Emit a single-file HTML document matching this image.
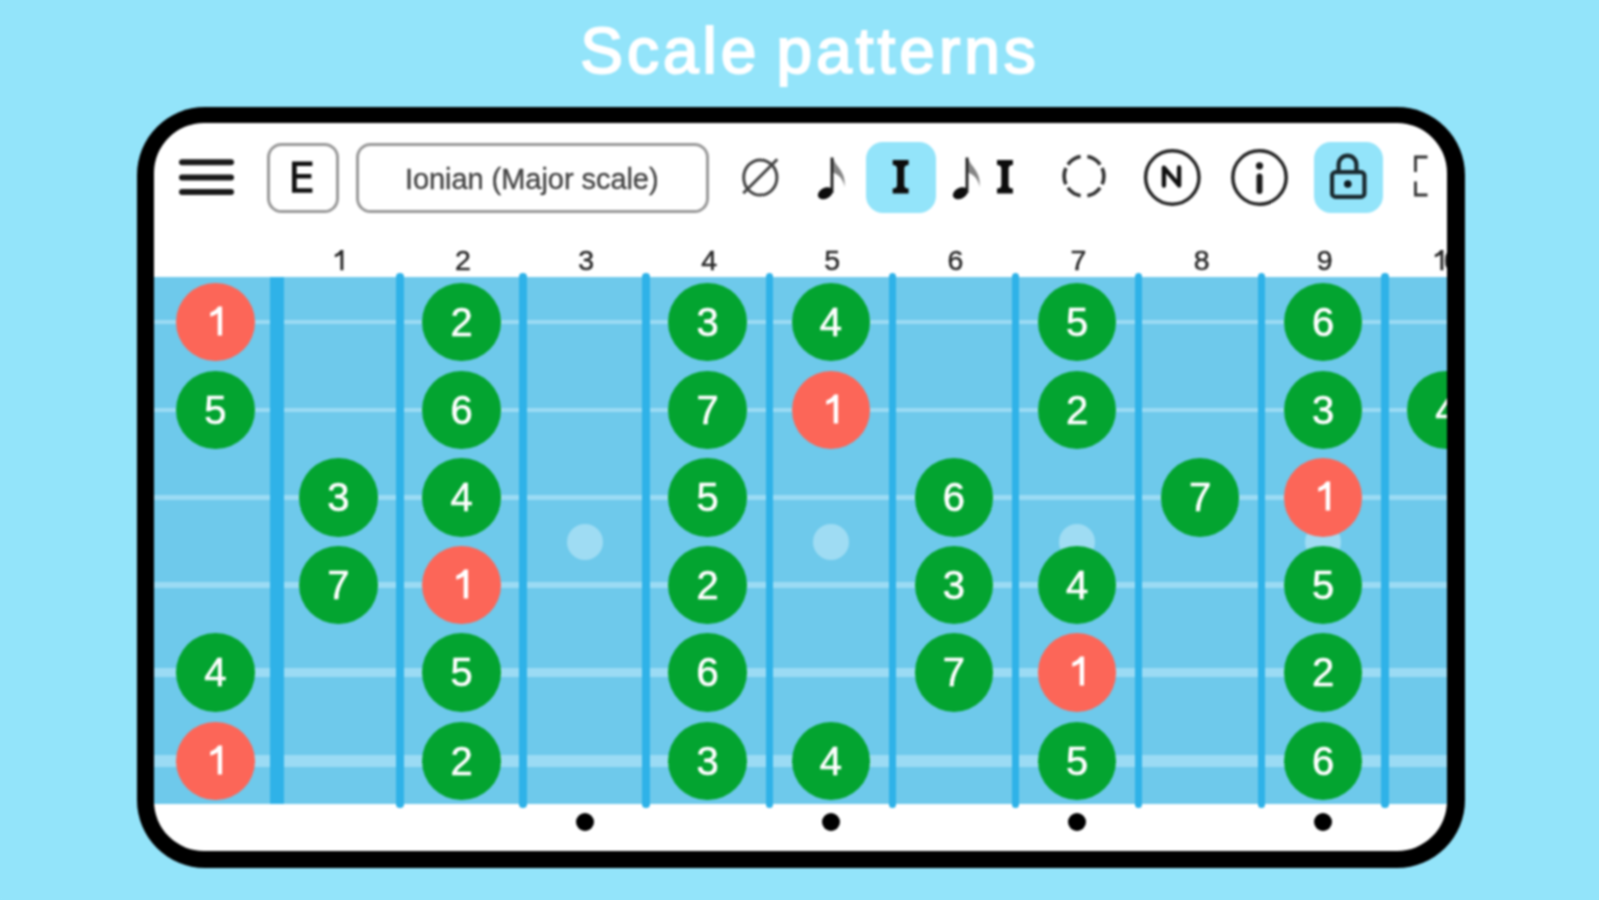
<!DOCTYPE html>
<html><head><meta charset="utf-8">
<style>
html,body{margin:0;padding:0;background:#93e4fa;}
#wrap{position:absolute;left:0;top:0;width:1599px;height:900px;background:#93e4fa;filter:blur(1.2px);}
body{width:1599px;height:900px;overflow:hidden;background:#93e4fa;position:relative;font-family:"Liberation Sans",sans-serif;}
.title{position:absolute;left:3px;width:1614px;top:10.6px;text-align:center;color:#fff;font-size:64px;line-height:80px;-webkit-text-stroke:2px #fff;letter-spacing:4px;word-spacing:-5.5px}
.frame{position:absolute;left:137px;top:107px;width:1328px;height:760.5px;border-radius:68px;background:#000;}
.screen{position:absolute;left:154px;top:122.5px;width:1293.3px;height:728.5px;border-radius:50px;background:#fff;overflow:hidden;}
.inner{position:absolute;left:-154px;top:-122.5px;width:1599px;height:900px;}
.fn{position:absolute;width:60px;text-align:center;font-size:28.5px;line-height:34px;color:#2a2a2a;-webkit-text-stroke:0.5px #2a2a2a}
.n{position:absolute;width:78.5px;height:78.5px;border-radius:50%;color:#fff;text-align:center;font-size:40px;line-height:79px;-webkit-text-stroke:0.6px #fff}
.abs{position:absolute;}
</style></head><body><div id="wrap">
<div class="title">Scale patterns</div>
<div class="frame"></div>
<div class="screen"><div class="inner">
<!-- toolbar -->
<svg class="abs" style="left:170px;top:150px" width="75" height="55" viewBox="170 150 75 55">
<g stroke="#1a1a1a" stroke-width="6" stroke-linecap="round"><line x1="182" y1="162.3" x2="231" y2="162.3"/><line x1="182" y1="177.5" x2="231" y2="177.5"/><line x1="182" y1="192" x2="231" y2="192"/></g>
</svg>
<div class="abs" style="left:267.2px;top:142.6px;width:66.1px;height:64.2px;border:3px solid #999;border-radius:14.5px;"></div>
<svg class="abs" style="left:285px;top:155px" width="35" height="45" viewBox="285 155 35 45"><path d="M292 161.5 H312.4 V166.1 H296.7 V174 H311.4 V178.6 H296.7 V188.2 H312.4 V192.8 H292 Z" fill="#111"/></svg>
<div class="abs" style="left:355.9px;top:142.6px;width:346.7px;height:64.2px;border:3px solid #999;border-radius:14.5px;text-align:center;font-size:29px;line-height:67px;color:#444;letter-spacing:-0.05px;text-indent:-1px;-webkit-text-stroke:0.35px #444">Ionian (Major scale)</div>
<div class="abs" style="left:865.5px;top:141.5px;width:70.5px;height:71.5px;border-radius:17px;background:#93e4fa"></div>
<div class="abs" style="left:1314px;top:141.5px;width:69px;height:71px;border-radius:17px;background:#93e4fa"></div>

<svg class="abs" style="left:730px;top:145px" width="60" height="60" viewBox="730 145 60 60">
  <ellipse cx="760.3" cy="177.5" rx="16.6" ry="17.6" fill="none" stroke="#444" stroke-width="3"/>
  <line x1="743.3" y1="193.3" x2="777.3" y2="159.3" stroke="#444" stroke-width="3"/>
</svg>
<svg class="abs" style="left:805px;top:145px" width="190" height="60" viewBox="805 145 190 60">
  <g>
    <ellipse cx="825.3" cy="193.2" rx="7.9" ry="5.4" transform="rotate(-28 825.3 193.2)" fill="#0d0d0d"/>
    <rect x="830.6" y="157.5" width="2.8" height="35.5" fill="#1a1a1a"/>
    <path d="M833.2 157.5 C 834.5 166, 846.5 171, 844.5 187 C 843.5 180, 840 175.5, 833.2 172.5 Z" fill="#333" opacity="0.6"/>
  </g>
  <g transform="translate(135 0)">
    <ellipse cx="825.3" cy="193.2" rx="7.9" ry="5.4" transform="rotate(-28 825.3 193.2)" fill="#0d0d0d"/>
    <rect x="830.6" y="157.5" width="2.8" height="35.5" fill="#1a1a1a"/>
    <path d="M833.2 157.5 C 834.5 166, 846.5 171, 844.5 187 C 843.5 180, 840 175.5, 833.2 172.5 Z" fill="#333" opacity="0.6"/>
  </g>
</svg>
<svg class="abs" style="left:880px;top:150px" width="150" height="55" viewBox="880 150 150 55">
  <path d="M892.7 160 H908.6 V165 Q904.3 165 904.3 168.5 V185 Q904.3 188.6 908.6 188.6 V193.5 H892.7 V188.6 Q897 188.6 897 185 V168.5 Q897 165 892.7 165 Z" fill="#0d0d0d"/>
  <path transform="translate(104.3 0)" d="M892.7 160 H908.6 V165 Q904.3 165 904.3 168.5 V185 Q904.3 188.6 908.6 188.6 V193.5 H892.7 V188.6 Q897 188.6 897 185 V168.5 Q897 165 892.7 165 Z" fill="#0d0d0d"/>
</svg>
<svg class="abs" style="left:1050px;top:145px" width="70" height="70" viewBox="1050 145 70 70">
  <g fill="none" stroke="#333" stroke-width="3.6">
  <path d="M1080.6 156.6 A19.8 19.8 0 0 0 1067.9 164.6"/>
  <path d="M1065.9 168.1 A19.8 19.8 0 0 0 1065.9 184.3"/>
  <path d="M1067.9 187.8 A19.8 19.8 0 0 0 1080.6 195.8"/>
  <path d="M1087.4 195.8 A19.8 19.8 0 0 0 1100.1 187.8"/>
  <path d="M1102.1 184.3 A19.8 19.8 0 0 0 1102.1 168.1"/>
  <path d="M1100.1 164.6 A19.8 19.8 0 0 0 1087.4 156.6"/>
  </g>
</svg>
<svg class="abs" style="left:1130px;top:135px" width="180" height="90" viewBox="1130 135 180 90">
  <circle cx="1172.3" cy="177.5" r="26.7" fill="none" stroke="#262626" stroke-width="3.5"/>
  <circle cx="1259.5" cy="177.5" r="26.7" fill="none" stroke="#262626" stroke-width="3.5"/>
  <path d="M1163.9 185.6 V167.6 L1179.1 185.4 V167.4" fill="none" stroke="#111" stroke-width="4.4" stroke-linejoin="round" stroke-linecap="round"/>
  <circle cx="1259.5" cy="165.8" r="3.6" fill="#1a1a1a"/>
  <line x1="1259.5" y1="176.5" x2="1259.5" y2="191" stroke="#1a1a1a" stroke-width="6" stroke-linecap="round"/>
</svg>
<svg class="abs" style="left:1320px;top:145px" width="60" height="60" viewBox="1320 145 60 60">
  <path d="M1338.6 172 V164.5 A8.9 8.9 0 0 1 1356.4 164.5 V172" fill="none" stroke="#1a2a30" stroke-width="4.2"/>
  <rect x="1332.1" y="172.1" width="32.3" height="24.8" rx="3.5" fill="none" stroke="#1a2a30" stroke-width="4.2"/>
  <circle cx="1347.8" cy="184" r="3.8" fill="#0d1a20"/>
</svg>
<svg class="abs" style="left:1405px;top:145px" width="40" height="60" viewBox="1405 145 40 60">
  <path d="M1415.5 172 V157 H1427.5 M1415.5 181.5 V195 H1427.5" fill="none" stroke="#333" stroke-width="2.8"/>
</svg>

<div style="position:absolute;left:154px;top:276.7px;width:1294px;height:527.3px;background:#6ec9eb"></div>
<div style="position:absolute;left:154px;top:320.25px;width:1294px;height:3.5px;background:#9bdbf4"></div>
<div style="position:absolute;left:154px;top:407.75px;width:1294px;height:4.5px;background:#9bdbf4"></div>
<div style="position:absolute;left:154px;top:494.75px;width:1294px;height:5.5px;background:#9bdbf4"></div>
<div style="position:absolute;left:154px;top:581.75px;width:1294px;height:6.5px;background:#9bdbf4"></div>
<div style="position:absolute;left:154px;top:667.55px;width:1294px;height:9.5px;background:#9bdbf4"></div>
<div style="position:absolute;left:154px;top:755.0px;width:1294px;height:12px;background:#9bdbf4"></div>
<div style="position:absolute;left:269.85px;top:276.7px;width:14px;height:527.3px;background:#2fb2e8"></div>
<div style="position:absolute;left:396.20000000000005px;top:272.8px;width:7.5px;height:535.5px;border-radius:3.75px;background:#2fb2e8"></div>
<div style="position:absolute;left:519.3px;top:272.8px;width:7.5px;height:535.5px;border-radius:3.75px;background:#2fb2e8"></div>
<div style="position:absolute;left:642.4px;top:272.8px;width:7.5px;height:535.5px;border-radius:3.75px;background:#2fb2e8"></div>
<div style="position:absolute;left:765.5px;top:272.8px;width:7.5px;height:535.5px;border-radius:3.75px;background:#2fb2e8"></div>
<div style="position:absolute;left:888.6px;top:272.8px;width:7.5px;height:535.5px;border-radius:3.75px;background:#2fb2e8"></div>
<div style="position:absolute;left:1011.6999999999999px;top:272.8px;width:7.5px;height:535.5px;border-radius:3.75px;background:#2fb2e8"></div>
<div style="position:absolute;left:1134.8px;top:272.8px;width:7.5px;height:535.5px;border-radius:3.75px;background:#2fb2e8"></div>
<div style="position:absolute;left:1257.9px;top:272.8px;width:7.5px;height:535.5px;border-radius:3.75px;background:#2fb2e8"></div>
<div style="position:absolute;left:1381.0px;top:272.8px;width:7.5px;height:535.5px;border-radius:3.75px;background:#2fb2e8"></div>
<div style="position:absolute;left:566.5999999999999px;top:523.5px;width:36px;height:36px;border-radius:50%;background:#9fdcf3"></div>
<div style="position:absolute;left:575.5999999999999px;top:813px;width:18px;height:18px;border-radius:50%;background:#000"></div>
<div style="position:absolute;left:812.8px;top:523.5px;width:36px;height:36px;border-radius:50%;background:#9fdcf3"></div>
<div style="position:absolute;left:821.8px;top:813px;width:18px;height:18px;border-radius:50%;background:#000"></div>
<div style="position:absolute;left:1059.0px;top:523.5px;width:36px;height:36px;border-radius:50%;background:#9fdcf3"></div>
<div style="position:absolute;left:1068.0px;top:813px;width:18px;height:18px;border-radius:50%;background:#000"></div>
<div style="position:absolute;left:1305.1999999999998px;top:523.5px;width:36px;height:36px;border-radius:50%;background:#9fdcf3"></div>
<div style="position:absolute;left:1314.1999999999998px;top:813px;width:18px;height:18px;border-radius:50%;background:#000"></div>
<svg class="abs" style="left:328.4px;top:245px" width="20" height="30" viewBox="-10 245 20 30"><path d="M5.4 250 V270.3 H2.4 V254.8 Q0 256.6 -3.2 257.3 V254.5 Q0.3 253.2 2.7 250 Z" fill="#2a2a2a"/></svg>
<div class="fn" style="left:433.0px;top:243.4px">2</div>
<div class="fn" style="left:556.0999999999999px;top:243.4px">3</div>
<div class="fn" style="left:679.2px;top:243.4px">4</div>
<div class="fn" style="left:802.3px;top:243.4px">5</div>
<div class="fn" style="left:925.3999999999999px;top:243.4px">6</div>
<div class="fn" style="left:1048.5px;top:243.4px">7</div>
<div class="fn" style="left:1171.6px;top:243.4px">8</div>
<div class="fn" style="left:1294.6999999999998px;top:243.4px">9</div>
<svg class="abs" style="left:1428.0px;top:245px" width="20" height="30" viewBox="-10 245 20 30"><path d="M5.4 250 V270.3 H2.4 V254.8 Q0 256.6 -3.2 257.3 V254.5 Q0.3 253.2 2.7 250 Z" fill="#2a2a2a"/></svg>
<div class="abs" style="left:1444px;top:243.4px;font-size:28.5px;line-height:34px;color:#2a2a2a;-webkit-text-stroke:0.5px #2a2a2a">0</div>
<div class="n" style="left:176.05px;top:282.75px;background:#fc6658"><svg width="78.5" height="78.5" style="position:absolute;left:0;top:0"><path d="M46.1 23.5 V52.6 H41.7 V30.2 Q38.6 32.8 34.3 33.8 V29.6 Q39.2 28 42.2 23.5 Z" fill="#fff"/></svg></div>
<div class="n" style="left:422.25px;top:282.75px;background:#03a430">2</div>
<div class="n" style="left:668.45px;top:282.75px;background:#03a430">3</div>
<div class="n" style="left:791.55px;top:282.75px;background:#03a430">4</div>
<div class="n" style="left:1037.75px;top:282.75px;background:#03a430">5</div>
<div class="n" style="left:1283.9499999999998px;top:282.75px;background:#03a430">6</div>
<div class="n" style="left:176.05px;top:370.75px;background:#03a430">5</div>
<div class="n" style="left:422.25px;top:370.75px;background:#03a430">6</div>
<div class="n" style="left:668.45px;top:370.75px;background:#03a430">7</div>
<div class="n" style="left:791.55px;top:370.75px;background:#fc6658"><svg width="78.5" height="78.5" style="position:absolute;left:0;top:0"><path d="M46.1 23.5 V52.6 H41.7 V30.2 Q38.6 32.8 34.3 33.8 V29.6 Q39.2 28 42.2 23.5 Z" fill="#fff"/></svg></div>
<div class="n" style="left:1037.75px;top:370.75px;background:#03a430">2</div>
<div class="n" style="left:1283.9499999999998px;top:370.75px;background:#03a430">3</div>
<div class="n" style="left:1407.05px;top:370.75px;background:#03a430">4</div>
<div class="n" style="left:299.15px;top:458.25px;background:#03a430">3</div>
<div class="n" style="left:422.25px;top:458.25px;background:#03a430">4</div>
<div class="n" style="left:668.45px;top:458.25px;background:#03a430">5</div>
<div class="n" style="left:914.6499999999999px;top:458.25px;background:#03a430">6</div>
<div class="n" style="left:1160.85px;top:458.25px;background:#03a430">7</div>
<div class="n" style="left:1283.9499999999998px;top:458.25px;background:#fc6658"><svg width="78.5" height="78.5" style="position:absolute;left:0;top:0"><path d="M46.1 23.5 V52.6 H41.7 V30.2 Q38.6 32.8 34.3 33.8 V29.6 Q39.2 28 42.2 23.5 Z" fill="#fff"/></svg></div>
<div class="n" style="left:299.15px;top:545.75px;background:#03a430">7</div>
<div class="n" style="left:422.25px;top:545.75px;background:#fc6658"><svg width="78.5" height="78.5" style="position:absolute;left:0;top:0"><path d="M46.1 23.5 V52.6 H41.7 V30.2 Q38.6 32.8 34.3 33.8 V29.6 Q39.2 28 42.2 23.5 Z" fill="#fff"/></svg></div>
<div class="n" style="left:668.45px;top:545.75px;background:#03a430">2</div>
<div class="n" style="left:914.6499999999999px;top:545.75px;background:#03a430">3</div>
<div class="n" style="left:1037.75px;top:545.75px;background:#03a430">4</div>
<div class="n" style="left:1283.9499999999998px;top:545.75px;background:#03a430">5</div>
<div class="n" style="left:176.05px;top:633.05px;background:#03a430">4</div>
<div class="n" style="left:422.25px;top:633.05px;background:#03a430">5</div>
<div class="n" style="left:668.45px;top:633.05px;background:#03a430">6</div>
<div class="n" style="left:914.6499999999999px;top:633.05px;background:#03a430">7</div>
<div class="n" style="left:1037.75px;top:633.05px;background:#fc6658"><svg width="78.5" height="78.5" style="position:absolute;left:0;top:0"><path d="M46.1 23.5 V52.6 H41.7 V30.2 Q38.6 32.8 34.3 33.8 V29.6 Q39.2 28 42.2 23.5 Z" fill="#fff"/></svg></div>
<div class="n" style="left:1283.9499999999998px;top:633.05px;background:#03a430">2</div>
<div class="n" style="left:176.05px;top:721.75px;background:#fc6658"><svg width="78.5" height="78.5" style="position:absolute;left:0;top:0"><path d="M46.1 23.5 V52.6 H41.7 V30.2 Q38.6 32.8 34.3 33.8 V29.6 Q39.2 28 42.2 23.5 Z" fill="#fff"/></svg></div>
<div class="n" style="left:422.25px;top:721.75px;background:#03a430">2</div>
<div class="n" style="left:668.45px;top:721.75px;background:#03a430">3</div>
<div class="n" style="left:791.55px;top:721.75px;background:#03a430">4</div>
<div class="n" style="left:1037.75px;top:721.75px;background:#03a430">5</div>
<div class="n" style="left:1283.9499999999998px;top:721.75px;background:#03a430">6</div>
</div></div>
</div></body></html>
